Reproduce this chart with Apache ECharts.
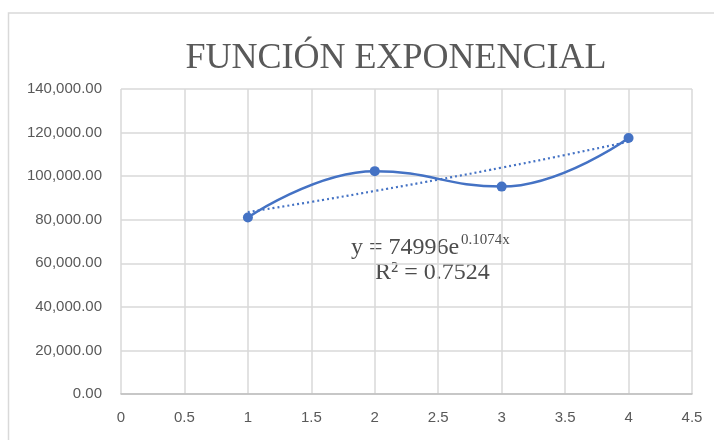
<!DOCTYPE html>
<html><head><meta charset="utf-8">
<script src="https://cdn.jsdelivr.net/npm/echarts@6/dist/echarts.min.js"></script>
<style>html,body{margin:0;padding:0;background:#fff}#c{width:714px;height:440px}</style>
</head><body><div id="c"></div>
<script>
const titleText = 'FUNCIÓN EXPONENCIAL';
const xValues = [1, 2, 3, 4];
const yValues = [81000, 102300, 95200, 117500];
const trendX = [1, 1.5, 2, 2.5, 3, 3.5, 4];
const trendY = [83500, 88200, 93200, 98400, 103900, 109700, 115800];
const eqMain = 'y = 74996e';
const eqExp = '0.1074x';
const eqR2 = 'R² = 0.7524';

const chart = echarts.init(document.getElementById('c'), null, {renderer: 'canvas'});
const axisFont = {fontFamily: 'Liberation Sans', fontSize: 15, color: '#595959'};
chart.setOption({
  animation: false,
  backgroundColor: '#fff',
  title: {
    text: titleText, left: 391, top: 36, textAlign: 'center',
    textStyle: {fontFamily: 'Liberation Serif', fontSize: 36, fontWeight: 'normal', color: '#595959'}
  },
  grid: {left: 121, right: 22, top: 89, bottom: 46},
  xAxis: {
    type: 'value', min: 0, max: 4.5, interval: 0.5,
    axisLine: {show: true, lineStyle: {color: '#bfbfbf', width: 1.5}},
    axisTick: {show: false},
    axisLabel: Object.assign({margin: 16}, axisFont),
    splitLine: {show: true, lineStyle: {color: '#d9d9d9', width: 1.5}}
  },
  yAxis: {
    type: 'value', min: 0, max: 140000, interval: 20000,
    axisLine: {show: false}, axisTick: {show: false},
    axisLabel: Object.assign({margin: 19, formatter: v => v.toLocaleString('en-US', {minimumFractionDigits: 2, maximumFractionDigits: 2})}, axisFont),
    splitLine: {show: true, lineStyle: {color: '#d9d9d9', width: 1.5}}
  },
  graphic: [
    {type: 'rect', shape: {x: 8.5, y: 13, width: 720, height: 440}, style: {fill: 'none', stroke: '#d9d9d9', lineWidth: 1.5}, z: -1},
    {type: 'text', left: 351, top: 236, style: {text: eqMain, font: '24px "Liberation Serif"', fill: '#4d4d4d'}},
    {type: 'text', left: 461, top: 233, style: {text: eqExp, font: '15px "Liberation Serif"', fill: '#4d4d4d'}},
    {type: 'text', left: 375, top: 261, style: {text: eqR2, font: '24px "Liberation Serif"', fill: '#4d4d4d'}}
  ],
  series: [
    {
      type: 'line', data: trendX.map((x, i) => [x, trendY[i]]),
      symbol: 'none', smooth: true,
      lineStyle: {color: '#4472C4', width: 2.2, type: [2, 3]}, z: 2
    },
    {
      type: 'line', data: xValues.map((x, i) => [x, yValues[i]]),
      smooth: 0.45, symbol: 'circle', symbolSize: 10,
      itemStyle: {color: '#4472C4'},
      lineStyle: {color: '#4472C4', width: 2.5}, z: 3
    }
  ]
});
</script></body></html>
